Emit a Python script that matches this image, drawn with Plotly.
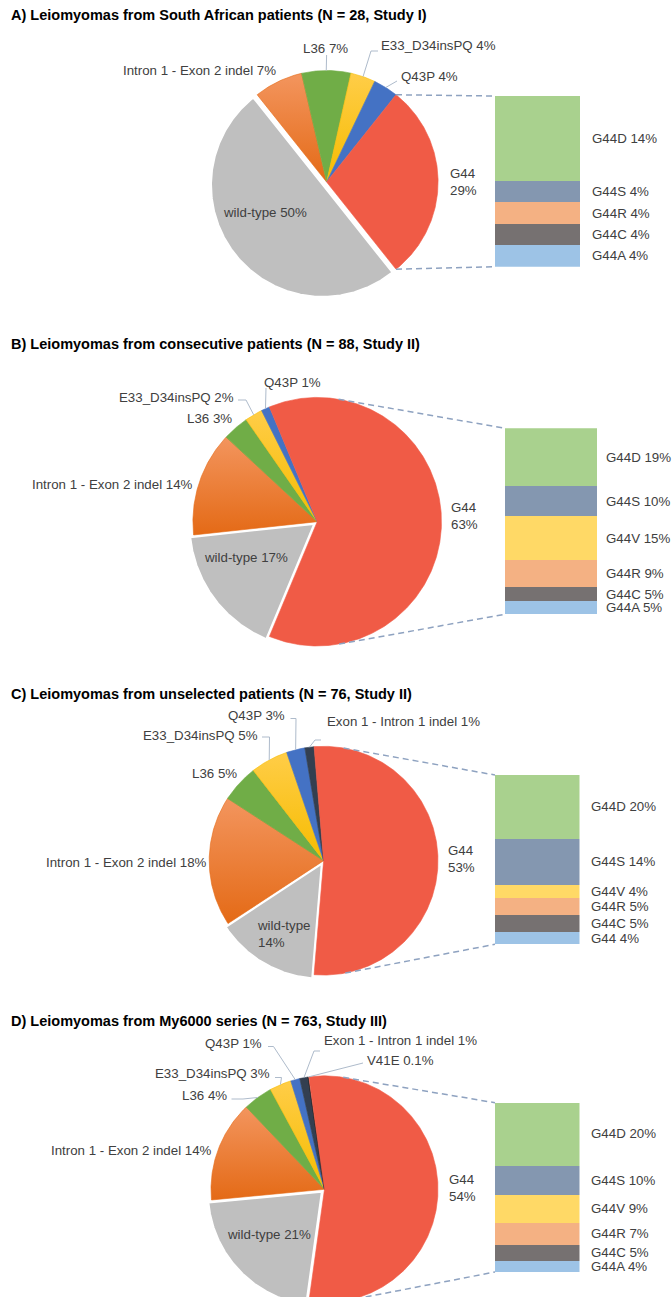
import math
import plotly.graph_objects as go

W, H = 672, 1297

# ---------------- data ----------------
titles = [
    "A) Leiomyomas from South African patients (N = 28, Study I)",
    "B) Leiomyomas from consecutive patients (N = 88, Study II)",
    "C) Leiomyomas from unselected patients (N = 76, Study II)",
    "D) Leiomyomas from My6000 series (N = 763, Study III)",
]

A_pie_labels = ["wild-type", "Intron 1 - Exon 2 indel", "L36", "E33_D34insPQ", "Q43P", "G44"]
A_pie_values = [50.0, 7.1, 7.1, 3.6, 3.6, 28.6]
A_bar_labels = ["G44D", "G44S", "G44R", "G44C", "G44A"]
A_bar_values = [14.3, 3.6, 3.6, 3.6, 3.6]

B_pie_labels = ["wild-type", "Intron 1 - Exon 2 indel", "L36", "E33_D34insPQ", "Q43P", "G44"]
B_pie_values = [17.0, 13.6, 3.4, 2.3, 1.1, 62.5]
B_bar_labels = ["G44D", "G44S", "G44V", "G44R", "G44C", "G44A"]
B_bar_values = [19.3, 10.2, 14.8, 9.1, 4.5, 4.5]

C_pie_labels = ["wild-type", "Intron 1 - Exon 2 indel", "L36", "E33_D34insPQ", "Q43P",
                "Exon 1 - Intron 1 indel", "G44"]
C_pie_values = [14.4, 18.4, 5.3, 5.3, 2.6, 1.3, 52.6]
C_bar_labels = ["G44D", "G44S", "G44V", "G44R", "G44C", "G44"]
C_bar_values = [19.7, 14.4, 3.9, 5.3, 5.3, 3.9]

D_pie_labels = ["wild-type", "Intron 1 - Exon 2 indel", "L36", "E33_D34insPQ", "Q43P",
                "Exon 1 - Intron 1 indel", "V41E", "G44"]
D_pie_values = [21.3, 14.4, 4.2, 3.1, 1.3, 1.2, 0.1, 54.4]
D_bar_labels = ["G44D", "G44S", "G44V", "G44R", "G44C", "G44A"]
D_bar_values = [20.1, 9.6, 8.8, 7.2, 5.0, 3.7]

# ---------------- styles ----------------
FONT = "Liberation Sans, Arial, sans-serif"
TXT = "#404040"
# gradient tuples: (top colour, bottom colour)
SLICE_COLORS = {
    "wild-type": "#BFBFBF",
    "Intron 1 - Exon 2 indel": ("#F3955E", "#E46A16"),
    "L36": "#70AD47",
    "E33_D34insPQ": ("#FFCD48", "#F6BC00"),
    "Q43P": "#4472C4",
    "Exon 1 - Intron 1 indel": "#333F50",
    "V41E": "#1E1E1E",
    "G44": "#F05B46",
}
BAR_COLORS = {
    "G44D": "#A9D18E", "G44S": "#8497B0", "G44V": "#FFD966",
    "G44R": "#F4B183", "G44C": "#767171", "G44A": "#9DC3E6", "G44": "#9DC3E6",
}
CONNECTOR = "#8EA2C0"
LEADER = "#AEBBCB"

# ---------------- layout of each panel (positions in page pixels) ----------------
panels = [
    dict(pie_labels=A_pie_labels, pie_values=A_pie_values,
         bar_labels=A_bar_labels, bar_values=A_bar_values,
         title_y=15, cx=326.6, cy=182, r=111.5, pull=5,
         bar=(495, 580, 96, 266.7), bar_lx=590,
         text={"wild-type": (220.7, 212, "left", False),
               "Intron 1 - Exon 2 indel": (277.7, 70.5, "right", False),
               "L36": (325.8, 48, "center", False),
               "E33_D34insPQ": (379.3, 45, "left", False),
               "Q43P": (398.6, 76.5, "left", False),
               "G44": (448, 181.5, "left", True)},
         leaders={"L36": [(326.6, 55)],
                  "E33_D34insPQ": [(378, 51), (371, 51)],
                  "Q43P": [(397, 81)]}),
    dict(pie_labels=B_pie_labels, pie_values=B_pie_values,
         bar_labels=B_bar_labels, bar_values=B_bar_values,
         title_y=343.5, cx=317.2, cy=521.7, r=124.3, pull=4,
         bar=(505, 597, 428.3, 614.3), bar_lx=603.5,
         text={"wild-type": (201.5, 557, "left", False),
               "Intron 1 - Exon 2 indel": (195, 484.3, "right", False),
               "L36": (233.6, 418.3, "right", False),
               "E33_D34insPQ": (235.7, 397.7, "right", False),
               "Q43P": (262.3, 382, "left", False),
               "G44": (449, 515.5, "left", True)},
         leaders={"Q43P": [(266, 388)],
                  "E33_D34insPQ": [(238, 400), (246, 400)]}),
    dict(pie_labels=C_pie_labels, pie_values=C_pie_values,
         bar_labels=C_bar_labels, bar_values=C_bar_values,
         title_y=694, cx=323.6, cy=860.7, r=114.4, pull=4,
         bar=(495, 579.5, 775, 944.3), bar_lx=589.4,
         text={"wild-type": (255, 933.5, "left", True),
               "Intron 1 - Exon 2 indel": (208.7, 862.3, "right", False),
               "L36": (238.7, 773, "right", False),
               "E33_D34insPQ": (260, 735.7, "right", False),
               "Q43P": (287, 715.3, "right", False),
               "Exon 1 - Intron 1 indel": (324.5, 721, "left", False),
               "G44": (445.8, 858.5, "left", True)},
         leaders={"Q43P": [(290.5, 718.5), (296, 718.5)],
                  "Exon 1 - Intron 1 indel": [(321, 740), (315, 740)],
                  "E33_D34insPQ": [(262, 737), (269.5, 737)]}),
    dict(pie_labels=D_pie_labels, pie_values=D_pie_values,
         bar_labels=D_bar_labels, bar_values=D_bar_values,
         title_y=1021, cx=324.5, cy=1189.3, r=113.5, pull=4,
         bar=(495, 579.5, 1102.7, 1272), bar_lx=589.4,
         text={"wild-type": (225, 1234, "left", False),
               "Intron 1 - Exon 2 indel": (214.3, 1150.7, "right", False),
               "L36": (229, 1095, "right", False),
               "E33_D34insPQ": (272, 1073.3, "right", False),
               "Q43P": (263.6, 1043.3, "right", False),
               "Exon 1 - Intron 1 indel": (322.3, 1040, "left", False),
               "V41E": (365, 1060, "left", False),
               "G44": (447, 1187.5, "left", True)},
         leaders={"Q43P": [(268, 1046.5), (273.5, 1046.5)],
                  "Exon 1 - Intron 1 indel": [(320, 1051), (314, 1051)],
                  "V41E": [(363, 1063)],
                  "E33_D34insPQ": [(275, 1077.5), (281.5, 1077.5)],
                  "L36": [(231.5, 1099), (243, 1099)]}),
]


def fmt_pct(v):
    if v < 0.5:
        return f"{v:.1f}%"
    return f"{int(v + 0.5)}%"


def pt(cx, cy, r, ang):
    t = math.radians(ang)
    return cx + r * math.sin(t), cy - r * math.cos(t)


def wedge(cx, cy, r, a0, a1, step=0.5):
    n = max(2, int(abs(a1 - a0) / step) + 1)
    xs, ys = [cx], [cy]
    for i in range(n + 1):
        x, y = pt(cx, cy, r, a0 + (a1 - a0) * i / n)
        xs.append(x)
        ys.append(y)
    xs.append(cx)
    ys.append(cy)
    return xs, ys


fig = go.Figure()
annotations = []
layout_axes = {}

for k, P in enumerate(panels):
    labels, values = P["pie_labels"], P["pie_values"]
    tot = sum(values)
    g_sweep = values[-1] / tot * 360.0
    rot = 90 + g_sweep / 2.0          # G44 (last) centred at 3 o'clock
    cx, cy, r = P["cx"], P["cy"], P["r"]

    spans = []
    a = rot
    for v in values:
        s = v / tot * 360.0
        spans.append((a, a + s))
        a += s

    order = [i for i in range(len(labels)) if labels[i] != "wild-type"] + \
            [i for i in range(len(labels)) if labels[i] == "wild-type"]
    for i in order:
        lab = labels[i]
        a0, a1 = spans[i]
        ccx, ccy = cx, cy
        col = SLICE_COLORS[lab]
        if lab == "wild-type":
            mid = (a0 + a1) / 2
            ccx, ccy = pt(cx, cy, P["pull"], mid)
        xs, ys = wedge(ccx, ccy, r, a0, a1)
        kw = dict(x=xs, y=ys, mode="lines", fill="toself", hoverinfo="skip",
                  showlegend=False, xaxis="x", yaxis="y")
        if isinstance(col, tuple):
            # y axis is reversed: colorscale 0 = bottom of slice, 1 = top
            kw["fillgradient"] = dict(type="vertical",
                                      colorscale=[[0, col[1]], [1, col[0]]])
            kw["line"] = dict(color=col[1], width=0.6)
        elif lab == "wild-type":
            kw["fillcolor"] = col
            kw["line"] = dict(color="white", width=1.6)
        else:
            kw["fillcolor"] = col
            kw["line"] = dict(color=col, width=0.6)
        fig.add_trace(go.Scatter(**kw))

    for lab, pts in P["leaders"].items():
        i = labels.index(lab)
        a0, a1 = spans[i]
        ex, ey = pt(cx, cy, r, (a0 + a1) / 2)
        xs = [p[0] for p in pts] + [ex]
        ys = [p[1] for p in pts] + [ey]
        fig.add_trace(go.Scatter(x=xs, y=ys, mode="lines", hoverinfo="skip",
                                 showlegend=False, line=dict(color=LEADER, width=1),
                                 xaxis="x", yaxis="y"))

    for lab, (x, y, anc, br) in P["text"].items():
        i = labels.index(lab)
        pct = fmt_pct(values[i])
        txt = f"{lab}<br>{pct}" if br else f"{lab} {pct}"
        annotations.append(dict(x=x, y=y, xref="x", yref="y", text=txt,
                                showarrow=False, xanchor=anc, yanchor="middle",
                                align="left", font=dict(family=FONT, size=13.3, color=TXT)))

    annotations.append(dict(x=9, y=P["title_y"], xref="x", yref="y",
                            text=f"<b>{titles[k]}</b>", showarrow=False,
                            xanchor="left", yanchor="middle",
                            font=dict(family=FONT, size=14.5, color="black")))

    bx0, bx1, byt, byb = P["bar"]
    ax = k + 2
    bl, bv = P["bar_labels"], P["bar_values"]
    btot = sum(bv)
    layout_axes[f"xaxis{ax}"] = dict(domain=[bx0 / W, bx1 / W], range=[-0.5, 0.5],
                                      visible=False, fixedrange=True, anchor=f"y{ax}")
    layout_axes[f"yaxis{ax}"] = dict(domain=[1 - byb / H, 1 - byt / H], range=[0, btot],
                                      visible=False, fixedrange=True, anchor=f"x{ax}")
    for j in reversed(range(len(bl))):
        fig.add_trace(go.Bar(x=[0], y=[bv[j]], width=1, marker=dict(color=BAR_COLORS[bl[j]],
                             line=dict(width=0)), hoverinfo="skip", showlegend=False,
                             xaxis=f"x{ax}", yaxis=f"y{ax}"))
    below = btot
    for j in range(len(bl)):
        below -= bv[j]
        annotations.append(dict(x=P["bar_lx"] / W, y=below + bv[j] / 2, xref="paper",
                                yref=f"y{ax}", text=f"{bl[j]} {fmt_pct(bv[j])}",
                                showarrow=False, xanchor="left", yanchor="middle",
                                font=dict(family=FONT, size=13.3, color=TXT)))

    g0, g1 = 90 - g_sweep / 2, 90 + g_sweep / 2

    def tangent(px, py, upper):
        dx, dy = px - cx, py - cy
        d = math.hypot(dx, dy)
        dang = math.degrees(math.atan2(dx, -dy))
        off = math.degrees(math.acos(r / d))
        return dang - off if upper else dang + off

    top_a = max(g0, tangent(bx0, byt, True))
    bot_a = min(g1, tangent(bx0, byb, False))
    for ang, by in ((top_a, byt), (bot_a, byb)):
        sx, sy = pt(cx, cy, r, ang)
        fig.add_trace(go.Scatter(x=[sx, bx0], y=[sy, by], mode="lines", hoverinfo="skip",
                                 showlegend=False,
                                 line=dict(color=CONNECTOR, width=1.5, dash="6px,4px"),
                                 xaxis="x", yaxis="y"))

fig.update_layout(
    width=W, height=H,
    margin=dict(l=0, r=0, t=0, b=0, pad=0),
    paper_bgcolor="white", plot_bgcolor="rgba(0,0,0,0)",
    showlegend=False, barmode="stack", bargap=0,
    xaxis=dict(domain=[0, 1], range=[0, W], visible=False, fixedrange=True),
    yaxis=dict(domain=[0, 1], range=[H, 0], visible=False, fixedrange=True),
    annotations=annotations,
    **layout_axes,
)

fig.write_html("out.html")
